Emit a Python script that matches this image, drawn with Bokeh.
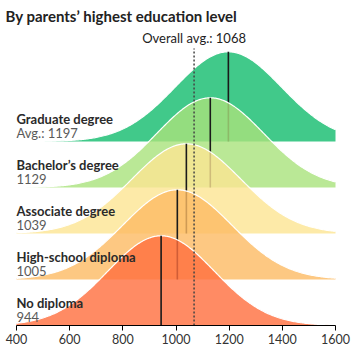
import numpy as np
from bokeh.plotting import figure
from bokeh.models import Range1d, FixedTicker, ColumnDataSource
from bokeh.embed import file_html
from bokeh.resources import INLINE
from bokeh.core.properties import value

# ---- data ----
title_text = "By parents’ highest education level"
categories = ["Graduate degree", "Bachelor’s degree", "Associate degree",
              "High-school diploma", "No diploma"]
avg_labels = ["Avg.: 1197", "1129", "1039", "1005", "944"]
means = [1197, 1129, 1039, 1005, 944]
sds = [200, 200, 205, 205, 200]
overall_avg = 1068
overall_label = "Overall avg.: 1068"
tick_values = [400, 600, 800, 1000, 1200, 1400, 1600]

# ---- styles ----
colors = ["#41c98a", "#a9e27c", "#fde592", "#fcba63", "#ff6e3d"]
alphas = [1.0, 0.8, 0.8, 0.8, 0.8]
FONT = "Lato"

W, H = 356, 354
frame_h = 325
row_px = 46.0
kx = 319 / 1200.0
peak = 1.95

p = figure(width=W, height=H,
           x_range=Range1d(400 - 16 / kx, 1600 + 21 / kx),
           y_range=Range1d(0, frame_h / row_px),
           output_backend="svg", toolbar_location=None,
           y_axis_location=None,
           min_border_left=0, min_border_right=0,
           min_border_top=0, min_border_bottom=H - frame_h)
p.grid.visible = False
p.outline_line_color = None
p.background_fill_color = "white"

xs = np.linspace(400, 1600, 301)
n = len(categories)
for i in range(n):
    base = n - 1 - i
    m, s = means[i], sds[i]
    ys = base + peak * np.exp(-0.5 * ((xs - m) / s) ** 2)
    p.varea(x=xs, y1=np.full_like(xs, base), y2=ys,
            fill_color=colors[i], fill_alpha=alphas[i])
    p.line(xs, ys, line_color="white", line_width=1.2)
    p.segment(x0=[m], y0=[base], x1=[m], y1=[base + peak],
              line_color="#1a1a1a", line_width=1.6)

# overall average dotted line
top_y = (frame_h - 48) / row_px
p.segment(x0=[overall_avg], y0=[0], x1=[overall_avg], y1=[top_y],
          line_color="#444444", line_width=1.5, line_dash="2 2")
p.text(x=[overall_avg], y=[(frame_h - 37) / row_px], text=[overall_label],
       text_font=value(FONT), text_font_size="13px", text_color="#222222",
       text_align="center", text_baseline="middle")

# category labels
bases = [n - 1 - i for i in range(n)]
src = ColumnDataSource(dict(
    x=[400] * n,
    y1=[b + 0.5 for b in bases],
    y2=[b + 0.19 for b in bases],
    cat=categories, avg=avg_labels))
p.text(x="x", y="y1", text="cat", source=src,
       text_font=value(FONT), text_font_style="bold", text_font_size="13px",
       text_color="#2a2a2a", text_align="left", text_baseline="middle")
p.text(x="x", y="y2", text="avg", source=src,
       text_font=value(FONT), text_font_size="13px",
       text_color="#5a5a5a", text_align="left", text_baseline="middle")

# title
p.text(x=[400 - 11 / kx], y=[(frame_h - 15) / row_px], text=[title_text],
       text_font=value(FONT), text_font_style="bold", text_font_size="15px",
       text_color="#222222", text_align="left", text_baseline="middle")

# x axis
ax = p.xaxis[0]
ax.ticker = FixedTicker(ticks=tick_values)
ax.bounds = (400, 1600)
ax.axis_line_color = "black"
ax.axis_line_width = 1
ax.major_tick_line_color = "black"
ax.major_tick_out = 5
ax.major_tick_in = 0
ax.minor_tick_line_color = None
ax.major_label_text_font = FONT
ax.major_label_text_font_size = "12.5px"
ax.major_label_text_color = "#333333"
ax.major_label_standoff = 3

open("out.html", "w").write(file_html(p, INLINE))
